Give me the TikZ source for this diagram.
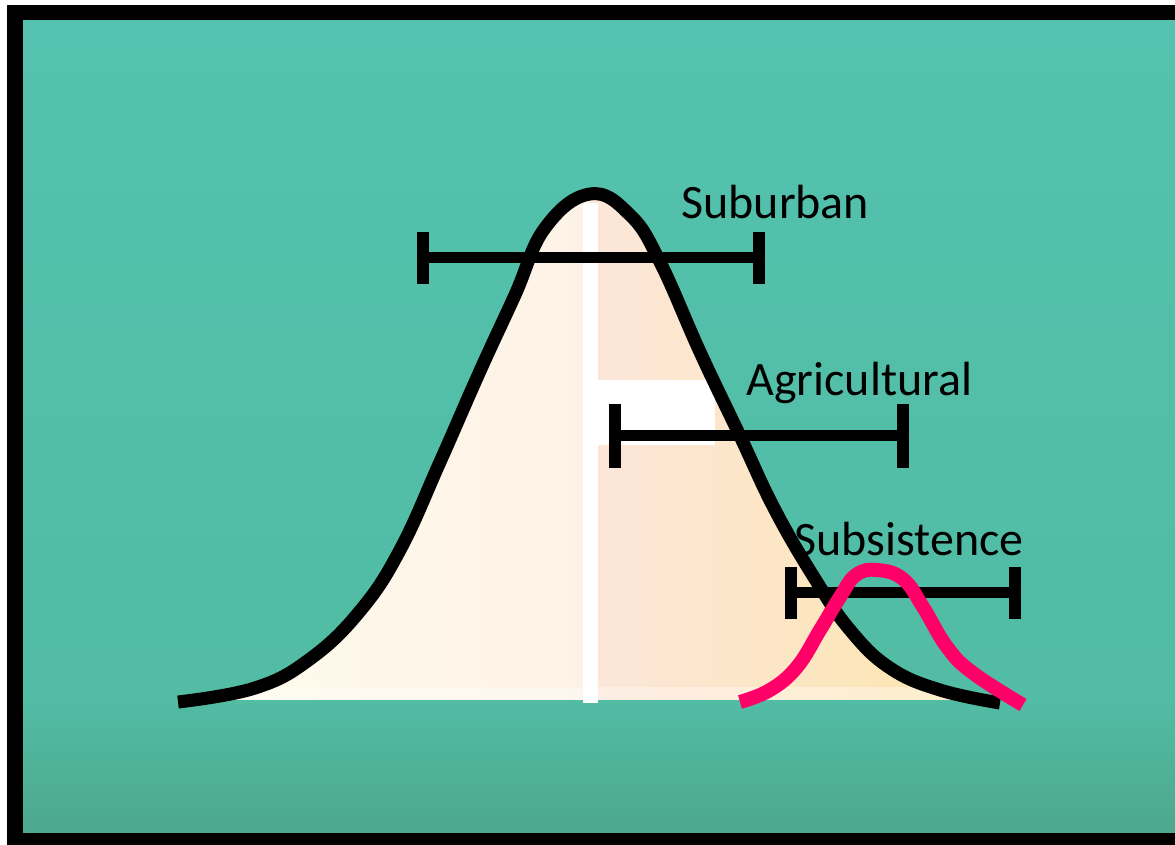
\documentclass[tikz,border=0pt]{standalone}
\usepackage{fontspec}
\setmainfont{Carlito}
\definecolor{tealtop}{RGB}{84,194,174}
\definecolor{tealmid}{RGB}{82,188,164}
\definecolor{tealbot}{RGB}{76,168,142}
\definecolor{creamL}{RGB}{255,252,236}
\definecolor{creamR}{RGB}{253,242,230}
\definecolor{peachL}{RGB}{252,230,218}
\definecolor{yellowR}{RGB}{252,230,170}
\definecolor{hotpink}{RGB}{255,0,104}
\def\bellpts{(178,702) (255,688) (310,659) (360,611) (400,550) (440,462) (480,371) (515,295) (545,228) (590,194) (630,215) (660,262) (700,352) (740,436) (775,510) (815,579) (850,630) (890,668) (940,690) (1000,703)}
\tikzset{
  curveline/.style={line width=6.5pt, black, line join=round},
  pinkline/.style={line width=7pt, hotpink, line join=round},
  barline/.style={line width=5.5pt, black},
  barcap/.style={line width=6pt, black},
  lbl/.style={font=\fontsize{24}{28}\selectfont, inner sep=0pt, anchor=base west, text=black}
}
\begin{document}
\begin{tikzpicture}[x=0.5pt,y=-0.5pt]
\useasboundingbox (0,0) rectangle (1175,845);
\fill[white] (0,0) rectangle (1175,845);
\fill[black] (7,5) rectangle (1175,845);
\shade[top color=tealtop, bottom color=tealmid] (23,21) rectangle (1175,700);
\shade[top color=tealmid, bottom color=tealbot] (23,700) rectangle (1175,833);
% area under the bell curve
\begin{scope}
\clip plot[smooth, tension=0.7] coordinates {(178,702) (255,688) (310,659) (360,611) (400,550) (440,462) (480,371) (515,295) (545,228) (590,194) (630,215) (660,262) (700,352) (740,436) (775,510) (815,579) (850,630) (890,668) (940,690) (1000,703)} -- cycle;
\shade[left color=creamL, right color=creamR] (170,180) rectangle (590,700);
\shade[left color=peachL, right color=yellowR] (590,180) rectangle (1010,700);
\shade[top color=white, bottom color=white, opacity=0.35] (170,688) rectangle (1010,700);
\end{scope}
% white vertical line and white box
\fill[white] (583,203) rectangle (598,703);
\fill[white] (598,380) rectangle (715,445);
% bell curve
\draw[curveline] plot[smooth, tension=0.7] coordinates {(178,702) (255,688) (310,659) (360,611) (400,550) (440,462) (480,371) (515,295) (545,228) (590,194) (630,215) (660,262) (700,352) (740,436) (775,510) (815,579) (850,630) (890,668) (940,690) (1000,703)};
% error bars
\coordinate (s1) at (423,258); \coordinate (s2) at (759,258);
\coordinate (a1) at (615,436); \coordinate (a2) at (903,436);
\coordinate (b1) at (791,593); \coordinate (b2) at (1015,593);
\draw[barline] (s1) -- (s2);
\draw[barcap] ([yshift=-13]s1) -- ([yshift=13]s1);
\draw[barcap] ([yshift=-13]s2) -- ([yshift=13]s2);
\draw[barline] (a1) -- (a2);
\draw[barcap] ([yshift=-16]a1) -- ([yshift=16]a1);
\draw[barcap] ([yshift=-16]a2) -- ([yshift=16]a2);
\draw[barline] (b1) -- (b2);
\draw[barcap] ([yshift=-13]b1) -- ([yshift=13]b1);
\draw[barcap] ([yshift=-13]b2) -- ([yshift=13]b2);
% pink curve
\draw[pinkline] plot[smooth, tension=0.7] coordinates {(740,702) (770,690) (797,667) (820,630) (840,597) (856,575) (877,570) (903,579) (923,607) (947,647) (973,673) (1023,705)};
% labels
\node[lbl] (suburban) at (681,219) {Suburban};
\node[lbl] (agri) at (746,396) {Agricultural};
\node[lbl] (subs) at (794,556) {Subsistence};
\end{tikzpicture}
\end{document}
